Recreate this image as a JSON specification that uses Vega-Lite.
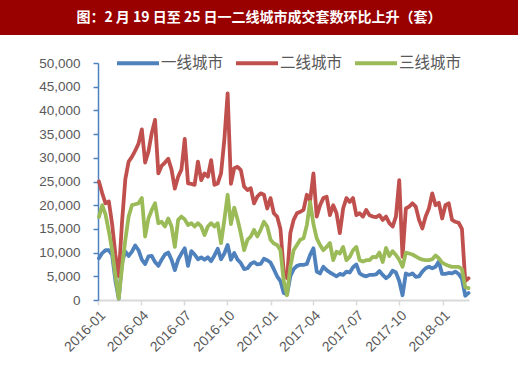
{
  "$schema": "https://vega.github.io/schema/vega-lite/v6.json",
  "padding": 0,
  "background": "white",
  "spacing": 21,
  "vconcat": [
    {
      "width": 518,
      "height": 35,
      "view": {"fill": "#990000", "stroke": null},
      "data": {"values": [{"t": "图：2 月 19 日至 25 日一二线城市成交套数环比上升（套）"}]},
      "mark": {"type": "text", "color": "white", "font": "Noto Sans CJK SC", "fontWeight": "bold", "fontSize": 14, "baseline": "middle", "align": "center"},
      "encoding": {"text": {"field": "t"}}
    },
    {
      "width": 469,
      "height": 237,
      "data": {"values": [
        {"d":"2016-01-03","一线城市":8800,"二线城市":25000,"三线城市":17500},
        {"d":"2016-01-10","一线城市":9900,"二线城市":22500,"三线城市":20000},
        {"d":"2016-01-17","一线城市":10500,"二线城市":20400,"三线城市":18000},
        {"d":"2016-01-24","一线城市":10500,"二线城市":20800,"三线城市":14500},
        {"d":"2016-01-31","一线城市":9500,"二线城市":16000,"三线城市":10500},
        {"d":"2016-02-07","一线城市":4000,"二线城市":9500,"三线城市":5000},
        {"d":"2016-02-14","一线城市":300,"二线城市":5000,"三线城市":300},
        {"d":"2016-02-21","一线城市":8000,"二线城市":16500,"三线城市":7000},
        {"d":"2016-02-28","一线城市":10200,"二线城市":25500,"三线城市":12700},
        {"d":"2016-03-06","一线城市":9300,"二线城市":29200,"三线城市":17600},
        {"d":"2016-03-13","一线城市":10200,"二线城市":30200,"三线城市":20000},
        {"d":"2016-03-20","一线城市":11500,"二线城市":31500,"三线城市":20200},
        {"d":"2016-03-27","一线城市":10500,"二线城市":33000,"三线城市":20400},
        {"d":"2016-04-03","一线城市":8500,"二线城市":36000,"三线城市":21500},
        {"d":"2016-04-10","一线城市":7600,"二线城市":29000,"三线城市":13400},
        {"d":"2016-04-17","一线城市":9200,"二线城市":31300,"三线城市":17200},
        {"d":"2016-04-24","一线城市":9300,"二线城市":35200,"三线城市":19000},
        {"d":"2016-05-01","一线城市":8000,"二线城市":38000,"三线城市":20400},
        {"d":"2016-05-08","一线城市":7200,"二线城市":26700,"三线城市":16200},
        {"d":"2016-05-15","一线城市":8500,"二线城市":28300,"三线城市":16500},
        {"d":"2016-05-22","一线城市":9600,"二线城市":29000,"三线城市":15500},
        {"d":"2016-05-29","一线城市":10000,"二线城市":29800,"三线城市":17200},
        {"d":"2016-06-05","一线城市":8500,"二线城市":27500,"三线城市":15500},
        {"d":"2016-06-12","一线城市":6300,"二线城市":23500,"三线城市":11200},
        {"d":"2016-06-19","一线城市":8500,"二线城市":26000,"三线城市":16900},
        {"d":"2016-06-26","一线城市":9800,"二线城市":27500,"三线城市":17600},
        {"d":"2016-07-03","一线城市":10900,"二线城市":34000,"三线城市":17000},
        {"d":"2016-07-10","一线城市":7200,"二线城市":24600,"三线城市":15800},
        {"d":"2016-07-17","一线城市":10300,"二线城市":24500,"三线城市":16200},
        {"d":"2016-07-24","一线城市":9600,"二线城市":24300,"三线城市":15500},
        {"d":"2016-07-31","一线城市":8600,"二线城市":29200,"三线城市":16200},
        {"d":"2016-08-07","一线城市":9000,"二线城市":25300,"三线城市":15500},
        {"d":"2016-08-14","一线城市":8500,"二线城市":26700,"三线城市":13700},
        {"d":"2016-08-21","一线城市":9000,"二线城市":26000,"三线城市":15500},
        {"d":"2016-08-28","一线城市":8200,"二线城市":29500,"三线城市":16200},
        {"d":"2016-09-04","一线城市":9400,"二线城市":24300,"三线城市":15500},
        {"d":"2016-09-11","一线城市":10800,"二线城市":24600,"三线城市":16200},
        {"d":"2016-09-18","一线城市":8600,"二线城市":26700,"三线城市":12000},
        {"d":"2016-09-25","一线城市":9800,"二线城市":33800,"三线城市":16900},
        {"d":"2016-10-02","一线城市":11600,"二线城市":43600,"三线城市":22200},
        {"d":"2016-10-09","一线城市":8500,"二线城市":24500,"三线城市":16000},
        {"d":"2016-10-16","一线城市":9900,"二线城市":27800,"三线城市":19500},
        {"d":"2016-10-23","一线城市":8500,"二线城市":28100,"三线城市":17000},
        {"d":"2016-10-30","一线城市":7800,"二线城市":27400,"三线城市":14000},
        {"d":"2016-11-06","一线城市":6500,"二线城市":23900,"三线城市":10500},
        {"d":"2016-11-13","一线城市":6700,"二线城市":23200,"三线城市":12700},
        {"d":"2016-11-20","一线城市":7600,"二线城市":23600,"三线城市":13400},
        {"d":"2016-11-27","一线城市":8000,"二线城市":20400,"三线城市":14800},
        {"d":"2016-12-04","一线城市":7500,"二线城市":21800,"三线城市":13400},
        {"d":"2016-12-11","一线城市":7600,"二线城市":22500,"三线城市":14800},
        {"d":"2016-12-18","一线城市":8700,"二线城市":22200,"三线城市":16500},
        {"d":"2016-12-25","一线城市":8400,"二线城市":19300,"三线城市":15500},
        {"d":"2017-01-01","一线城市":7900,"二线城市":21500,"三线城市":12700},
        {"d":"2017-01-08","一线城市":6500,"二线城市":18300,"三线城市":11900},
        {"d":"2017-01-15","一线城市":5000,"二线城市":17600,"三线城市":11600},
        {"d":"2017-01-22","一线城市":4000,"二线城市":15000,"三线城市":10500},
        {"d":"2017-01-29","一线城市":1500,"二线城市":6000,"三线城市":4000},
        {"d":"2017-02-05","一线城市":1200,"二线城市":4600,"三线城市":1000},
        {"d":"2017-02-12","一线城市":5000,"二线城市":14100,"三线城市":7000},
        {"d":"2017-02-19","一线城市":6500,"二线城市":16900,"三线城市":10500},
        {"d":"2017-02-26","一线城市":7200,"二线城市":18300,"三线城市":11600},
        {"d":"2017-03-05","一线城市":7400,"二线城市":18600,"三线城市":12700},
        {"d":"2017-03-12","一线城市":7400,"二线城市":19000,"三线城市":13000},
        {"d":"2017-03-19","一线城市":7600,"二线城市":22200,"三线城市":15800},
        {"d":"2017-03-26","一线城市":9500,"二线城市":21000,"三线城市":20700},
        {"d":"2017-04-02","一线城市":10900,"二线城市":26700,"三线城市":16000},
        {"d":"2017-04-09","一线城市":6000,"二线城市":17600,"三线城市":13000},
        {"d":"2017-04-16","一线城市":5600,"二线城市":20000,"三线城市":11600},
        {"d":"2017-04-23","一线城市":7000,"二线城市":21500,"三线城市":10500},
        {"d":"2017-04-30","一线城市":6300,"二线城市":21800,"三线城市":11200},
        {"d":"2017-05-07","一线城市":5800,"二线城市":17900,"三线城市":12000},
        {"d":"2017-05-14","一线城市":5400,"二线城市":20000,"三线城市":8400},
        {"d":"2017-05-21","一线城市":5000,"二线城市":18300,"三线城市":10200},
        {"d":"2017-05-28","一线城市":5500,"二线城市":14100,"三线城市":9800},
        {"d":"2017-06-04","一线城市":5300,"二线城市":19300,"三线城市":11200},
        {"d":"2017-06-11","一线城市":6000,"二线城市":21500,"三线城市":8400},
        {"d":"2017-06-18","一线城市":5800,"二线城市":20700,"三线城市":9100},
        {"d":"2017-06-25","一线城市":6900,"二线城市":21500,"三线城市":10500},
        {"d":"2017-07-02","一线城市":7500,"二线城市":17900,"三线城市":11200},
        {"d":"2017-07-09","一线城市":5600,"二线城市":18300,"三线城市":8400},
        {"d":"2017-07-16","一线城市":5200,"二线城市":17600,"三线城市":8100},
        {"d":"2017-07-23","一线城市":5000,"二线城市":19000,"三线城市":8400},
        {"d":"2017-07-30","一线城市":5300,"二线城市":17900,"三线城市":8400},
        {"d":"2017-08-06","一线城市":5300,"二线城市":17600,"三线城市":9100},
        {"d":"2017-08-13","一线城市":5400,"二线城市":17500,"三线城市":9000},
        {"d":"2017-08-20","一线城市":6100,"二线城市":17900,"三线城市":10000},
        {"d":"2017-08-27","一线城市":5300,"二线城市":16900,"三线城市":8000},
        {"d":"2017-09-03","一线城市":4600,"二线城市":17600,"三线城市":11000},
        {"d":"2017-09-10","一线城市":5100,"二线城市":16200,"三线城市":9300},
        {"d":"2017-09-17","一线城市":6200,"二线城市":15500,"三线城市":10300},
        {"d":"2017-09-24","一线城市":5800,"二线城市":17600,"三线城市":9500},
        {"d":"2017-10-01","一线城市":4000,"二线城市":25300,"三线城市":8500},
        {"d":"2017-10-08","一线城市":1000,"二线城市":9100,"三线城市":7000},
        {"d":"2017-10-15","一线城市":5600,"二线城市":19300,"三线城市":10000},
        {"d":"2017-10-22","一线城市":5300,"二线城市":19700,"三线城市":9800},
        {"d":"2017-10-29","一线城市":5600,"二线城市":20400,"三线城市":9600},
        {"d":"2017-11-05","一线城市":4900,"二线城市":19700,"三线城市":9200},
        {"d":"2017-11-12","一线城市":5000,"二线城市":16900,"三线城市":8800},
        {"d":"2017-11-19","一线城市":6000,"二线城市":15100,"三线城市":8500},
        {"d":"2017-11-26","一线城市":6700,"二线城市":17600,"三线城市":8400},
        {"d":"2017-12-03","一线城市":7000,"二线城市":19300,"三线城市":8400},
        {"d":"2017-12-10","一线城市":6700,"二线城市":22500,"三线城市":8600},
        {"d":"2017-12-17","一线城市":7000,"二线城市":20000,"三线城市":9400},
        {"d":"2017-12-24","一线城市":8100,"二线城市":20500,"三线城市":8800},
        {"d":"2017-12-31","一线城市":5500,"二线城市":17200,"三线城市":7900},
        {"d":"2018-01-07","一线城市":5500,"二线城市":20000,"三线城市":7500},
        {"d":"2018-01-14","一线城市":5700,"二线城市":20400,"三线城市":7200},
        {"d":"2018-01-21","一线城市":5600,"二线城市":16900,"三线城市":7000},
        {"d":"2018-01-28","一线城市":6000,"二线城市":16500,"三线城市":7000},
        {"d":"2018-02-04","一线城市":5500,"二线城市":16300,"三线城市":7000},
        {"d":"2018-02-11","一线城市":4500,"二线城市":15000,"三线城市":6500},
        {"d":"2018-02-18","一线城市":900,"二线城市":4000,"三线城市":2700},
        {"d":"2018-02-25","一线城市":1500,"二线城市":4600,"三线城市":2500}
      ]},
      "transform": [{"fold": ["一线城市", "二线城市", "三线城市"], "as": ["series", "value"]}],
      "mark": {"type": "line", "strokeWidth": 3.8, "strokeJoin": "round", "strokeCap": "round"},
      "encoding": {
        "x": {
          "field": "d",
          "type": "temporal",
          "scale": {"type": "utc", "range": [98, 469], "domain": [{"year": 2016, "month": 1, "date": 1, "utc": true}, {"year": 2018, "month": 2, "date": 26, "utc": true}]},
          "axis": {
            "values": [
              {"year": 2016, "month": 1, "date": 1, "utc": true},
              {"year": 2016, "month": 4, "date": 1, "utc": true},
              {"year": 2016, "month": 7, "date": 1, "utc": true},
              {"year": 2016, "month": 10, "date": 1, "utc": true},
              {"year": 2017, "month": 1, "date": 1, "utc": true},
              {"year": 2017, "month": 4, "date": 1, "utc": true},
              {"year": 2017, "month": 7, "date": 1, "utc": true},
              {"year": 2017, "month": 10, "date": 1, "utc": true},
              {"year": 2018, "month": 1, "date": 1, "utc": true}
            ],
            "format": "%Y-%m",
            "labelAngle": -45,
            "labelFont": "Liberation Sans",
            "labelFontSize": 14,
            "labelColor": "#595959",
            "labelPadding": 3,
            "labelFlush": false,
            "labelOverlap": false,
            "domainColor": "#D9D9D9",
            "domainWidth": 2,
            "tickColor": "#D9D9D9",
            "tickWidth": 1.5,
            "tickSize": 5,
            "grid": false,
            "title": null
          }
        },
        "y": {
          "field": "value",
          "type": "quantitative",
          "scale": {"domain": [0, 50000], "nice": false},
          "axis": {
            "values": [0, 5000, 10000, 15000, 20000, 25000, 30000, 35000, 40000, 45000, 50000],
            "format": ",.0f",
            "offset": -98,
            "labelFont": "Liberation Sans",
            "labelFontSize": 13.5,
            "labelColor": "#595959",
            "labelPadding": 13,
            "domainColor": "#4F81BD",
            "domainWidth": 1.5,
            "tickColor": "#4F81BD",
            "tickWidth": 1.5,
            "tickSize": 5,
            "grid": false,
            "title": null
          }
        },
        "color": {
          "field": "series",
          "type": "nominal",
          "scale": {"domain": ["一线城市", "二线城市", "三线城市"], "range": ["#4F81BD", "#C0504D", "#9BBB59"]},
          "legend": {
            "orient": "none",
            "legendX": 115,
            "legendY": 40,
            "direction": "horizontal",
            "title": null,
            "symbolType": "stroke",
            "symbolSize": 1764,
            "symbolStrokeWidth": 4,
            "labelFont": "Noto Sans CJK SC",
            "labelFontSize": 15.5,
            "labelColor": "#595959",
            "labelOffset": 0,
            "columnPadding": 4,
            "padding": 0
          }
        }
      }
    }
  ],
  "config": {"view": {"stroke": null}}
}
